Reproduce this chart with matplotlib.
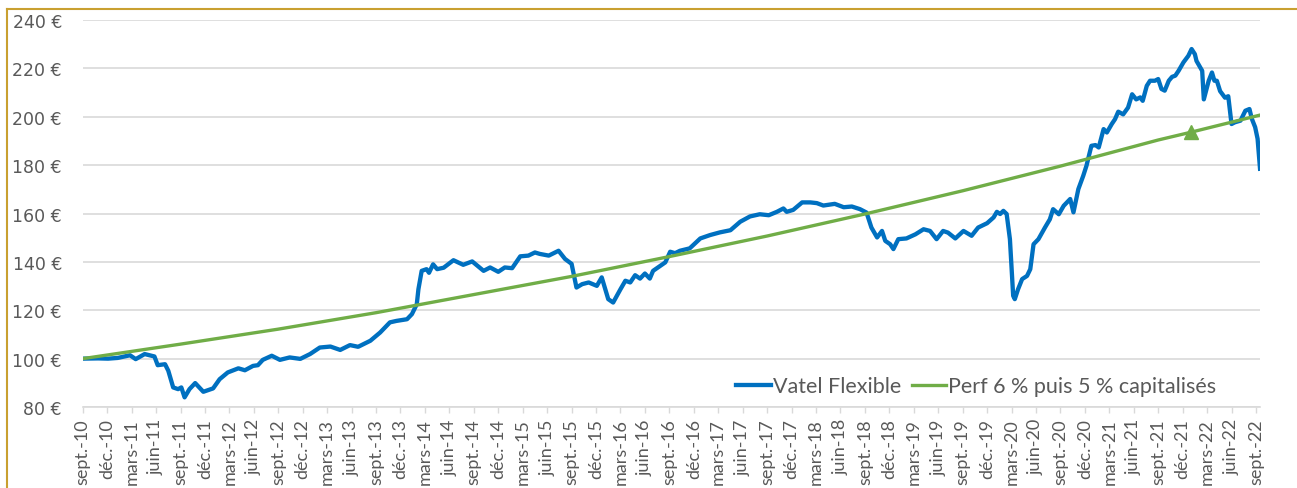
import matplotlib.pyplot as plt
from matplotlib.lines import Line2D

plt.rcParams['font.family'] = ['Lato', 'DejaVu Sans']

# months since sept. 2010 and fund value (EUR)
vatel_months = [
    0.0, 1.9, 3.1, 4.3, 5.8, 6.5, 7.6, 8.8, 9.2, 10.1, 10.5, 11.1, 11.7, 12.1, 12.5,
    13.1, 13.8, 14.8, 16.0, 16.8, 17.8, 19.1, 19.9, 20.9, 21.5, 22.1, 23.2, 24.2,
    25.4, 26.7, 27.9, 29.1, 30.4, 31.6, 32.8, 33.8, 35.3, 36.5, 37.7, 38.5, 39.8,
    40.4, 41.0, 41.2, 41.6, 42.2, 42.5, 43.0, 43.5, 44.3, 45.5, 46.7, 47.8, 49.2,
    50.0, 51.0, 51.8, 52.7, 53.7, 54.7, 55.5, 56.1, 57.2, 58.4, 59.2, 60.0, 60.6,
    61.3, 62.1, 63.1, 63.7, 64.5, 65.1, 66.0, 66.6, 67.2, 67.8, 68.4, 69.0, 69.6,
    70.0, 70.9, 71.5, 72.1, 72.7, 73.3, 74.5, 75.8, 77.0, 78.2, 79.5, 80.7, 81.9,
    83.1, 84.2, 85.2, 86.0, 86.4, 87.2, 88.3, 89.3, 90.1, 90.9, 92.3, 93.4, 94.4,
    95.4, 96.2, 96.8, 97.5, 98.1, 98.5, 99.1, 99.5, 100.1, 101.1, 102.2, 103.2,
    104.0, 104.8, 105.6, 106.2, 107.1, 108.1, 109.1, 109.9, 111.0, 111.8, 112.2,
    112.6, 113.0, 113.4, 113.8, 114.2, 114.4, 114.8, 115.3, 115.9, 116.3, 116.7,
    117.3, 118.1, 118.7, 119.1, 119.8, 120.4, 120.8, 121.2, 121.6, 122.2, 122.8,
    123.2, 123.8, 124.3, 124.7, 125.3, 125.7, 126.3, 126.7, 127.1, 127.7, 128.3,
    128.8, 129.3, 129.8, 130.1, 130.6, 131.0, 131.6, 132.0, 132.4, 132.8, 133.3,
    133.7, 134.1, 134.5, 135.1, 135.7, 136.1, 136.5, 136.7, 137.4, 137.6, 138.2,
    138.6, 138.9, 139.2, 139.6, 140.2, 140.6, 141.0, 141.4, 142.1, 142.7, 143.2,
    143.5, 143.9, 144.2, 144.5,
]
vatel_values = [
    100.0, 100.1, 100.0, 100.3, 101.4, 99.8, 101.9, 100.9, 97.3, 97.7, 95.0, 88.1,
    87.4, 88.1, 84.0, 87.4, 89.9, 86.3, 87.7, 91.5, 94.3, 96.0, 95.2, 97.0, 97.3,
    99.5, 101.2, 99.5, 100.5, 99.9, 101.9, 104.6, 105.0, 103.6, 105.6, 104.9, 107.4,
    110.8, 115.0, 115.6, 116.3, 118.4, 122.5, 128.7, 136.3, 137.0, 135.5, 139.0,
    137.0, 137.6, 140.7, 138.8, 140.2, 136.3, 137.7, 135.9, 137.7, 137.4, 142.3,
    142.6, 143.9, 143.3, 142.6, 144.6, 141.2, 139.2, 129.4, 130.8, 131.5, 130.1,
    133.6, 124.6, 123.2, 128.7, 132.2, 131.5, 134.5, 133.1, 135.2, 133.1, 136.3,
    138.4, 139.8, 144.2, 143.6, 144.6, 145.6, 149.7, 151.1, 152.2, 153.1, 156.6,
    158.8, 159.7, 159.3, 160.7, 162.1, 160.7, 161.5, 164.6, 164.6, 164.3, 163.3,
    164.0, 162.6, 162.9, 161.8, 160.4, 154.2, 150.1, 152.8, 148.7, 147.3, 145.3,
    149.4, 149.7, 151.4, 153.5, 152.8, 149.4, 152.8, 152.1, 149.7, 152.8, 150.8,
    154.2, 156.0, 158.4, 160.7, 159.8, 161.1, 159.8, 149.4, 126.0, 124.6, 128.7,
    132.9, 134.2, 137.0, 147.3, 149.4, 154.2, 157.6, 161.8, 159.7, 163.2, 164.6,
    166.0, 160.5, 170.1, 175.6, 179.8, 188.0, 188.3, 187.3, 194.9, 193.5, 197.0,
    199.0, 202.1, 201.0, 203.8, 209.3, 207.2, 208.0, 206.6, 212.8, 214.9, 214.9,
    215.6, 211.5, 210.8, 214.9, 216.5, 217.0, 219.0, 222.5, 225.2, 228.0, 225.9,
    223.1, 219.0, 207.2, 214.9, 218.3, 214.9, 214.9, 210.6, 207.9, 208.5, 197.0,
    197.7, 198.4, 202.5, 203.2, 199.1, 195.7, 190.9, 178.5,
]

# reference curve, 6 % then 5 % compounded
perf_months = [0, 12, 24, 36, 48, 60, 72, 84, 96, 108, 120, 132, 136, 144.5]
perf_values = [100.0, 106.0, 112.2, 119.0, 126.5, 134.0, 142.2, 150.7, 159.8,
               169.4, 179.6, 190.4, 193.6, 200.7]
switch_index = 12

month_names = ['sept.', 'déc.', 'mars', 'juin']
tick_labels = []
for k in range(49):
    year = 10 + (k + 2) // 4
    tick_labels.append(f"{month_names[k % 4]}-{year}")

blue = '#0070C0'
green = '#70AD47'
grey_text = '#595959'
grid_grey = '#D9D9D9'

fig = plt.figure(figsize=(12.97, 4.89), dpi=100)
ax = fig.add_axes([0.0638, 0.1656, 0.9077, 0.7914])

ax.plot(vatel_months, vatel_values, color=blue, lw=3.1,
        solid_joinstyle='round', label='Vatel Flexible', zorder=3)
ax.plot(perf_months, perf_values, color=green, lw=2.4,
        label='Perf 6 % puis 5 % capitalisés', zorder=4)
ax.plot(perf_months[switch_index], perf_values[switch_index], marker='^',
        color=green, markersize=10, zorder=5)

ax.set_xlim(0, 144.5)
ax.set_ylim(80, 240)
ax.set_yticks(range(80, 241, 20))
ax.set_yticklabels([f"{v} €" for v in range(80, 241, 20)],
                   family='DejaVu Sans', fontsize=12.5)
ax.set_xticks(range(0, 145, 3))
ax.set_xticklabels(tick_labels, rotation=90, fontsize=13)

ax.grid(axis='y', color=grid_grey, lw=1.2)
ax.set_axisbelow(True)
for side in ['top', 'right', 'left']:
    ax.spines[side].set_visible(False)
ax.spines['bottom'].set_color(grid_grey)
ax.spines['bottom'].set_linewidth(1.2)
ax.tick_params(axis='y', length=0, pad=15, labelcolor=grey_text)
ax.tick_params(axis='x', length=4, width=1, color=grid_grey, pad=4,
               labelcolor=grey_text)

leg = ax.legend(loc='center', bbox_to_anchor=(0.759, 0.054), ncol=2,
                frameon=False, fontsize=15.5,
                handlelength=1.6, handletextpad=0.1, columnspacing=0.5)
for text in leg.get_texts():
    text.set_color(grey_text)

# frame of the original picture (left and top edges)
fig.add_artist(Line2D([0.0054, 0.0054], [0, 0.98], transform=fig.transFigure,
                      color='#C9A030', lw=1.5))
fig.add_artist(Line2D([0.0054, 1], [0.98, 0.98], transform=fig.transFigure,
                      color='#C9A030', lw=1.5))

fig.savefig('out.png', dpi=100)
